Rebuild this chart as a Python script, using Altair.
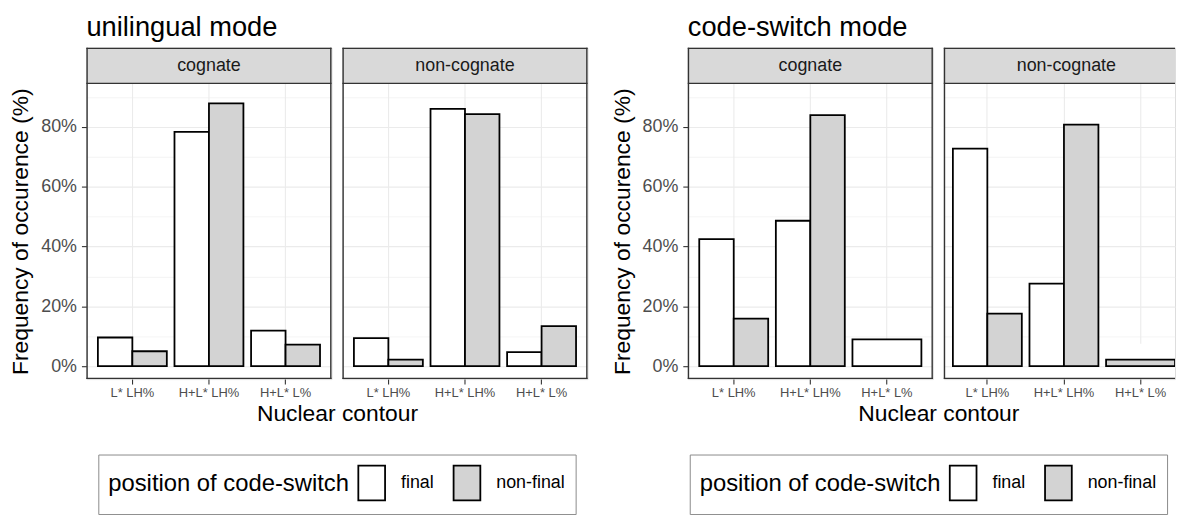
import altair as alt
import pandas as pd

FONT = "Liberation Sans"

modes = ["unilingual mode", "code-switch mode"]
cogs = ["cognate", "non-cognate"]
contours = ["L* LH%", "H+L* LH%", "H+L* L%"]
positions = ["final", "non-final"]

# values in percent, None = no bar
uni_cog_final = [9.6, 78.3, 11.9]
uni_cog_nonfinal = [5.0, 87.8, 7.2]
uni_non_final = [9.4, 86.0, 4.7]
uni_non_nonfinal = [2.2, 84.2, 13.4]
cs_cog_final = [42.5, 48.6, 9.0]
cs_cog_nonfinal = [15.9, 83.9, None]
cs_non_final = [72.7, 27.6, None]
cs_non_nonfinal = [17.6, 80.7, 2.2]

y_ticks = [0, 10, 20, 30, 40, 50, 60, 70, 80, 90]

series = {
    "unilingual mode": {
        "cognate": (uni_cog_final, uni_cog_nonfinal),
        "non-cognate": (uni_non_final, uni_non_nonfinal),
    },
    "code-switch mode": {
        "cognate": (cs_cog_final, cs_cog_nonfinal),
        "non-cognate": (cs_non_final, cs_non_nonfinal),
    },
}

W = 247          # full panel width
H = 298          # plot area height
STRIP = 36       # strip height
GAP = 11         # gap between panels
CUT_W = 233      # visible width of the last (cut-off) panel
BORDER = "#333333"
GRID = "#EBEBEB"
BW = 1.4
SW = 1.8


def build_df(mode, cog):
    rows = []
    fin, nonfin = series[mode][cog]
    for i, c in enumerate(contours):
        present = [(p, v) for p, v in zip(positions, (fin[i], nonfin[i])) if v is not None]
        for p, v in present:
            rows.append({"cog": cog, "contour": c, "pos": p, "val": v, "n": len(present)})
    return pd.DataFrame(rows)


def legend_def(lx):
    return alt.Legend(
        title="position of code-switch", orient="none", legendX=lx, legendY=410,
        direction="horizontal", titleOrient="left", titleFontSize=24, titleFont=FONT,
        titleFontWeight="normal", titleColor="black", titleAnchor="middle", titleBaseline="middle",
        titleLimit=600, labelLimit=300,
        titlePadding=4, labelFontSize=18, labelFont=FONT, labelColor="black",
        labelOffset=11, columnPadding=14, padding=10, strokeColor="#8A8A8A",
        symbolType="M-0.77,-1L0.77,-1L0.77,1L-0.77,1Z", symbolSize=1225,
        symbolStrokeColor="black", symbolStrokeWidth=SW, symbolOpacity=1,
    )


def panel(mode, cog, first, cut, lx):
    df = build_df(mode, cog)
    w = CUT_W if cut else W
    if cut:
        # same band step as the full panels; the right end of the panel is cut off
        step = W / 3.2
        po = (CUT_W / step - 2.9) / 2
        xscale = alt.Scale(domain=contours, paddingInner=0.1, paddingOuter=po, align=1)
    else:
        xscale = alt.Scale(domain=contours, paddingInner=0.1, paddingOuter=0.15)
    xaxis_kw = dict(
        labelFontSize=13, labelColor="#4D4D4D", labelFont=FONT,
        tickColor=BORDER, tickSize=5, tickWidth=1.1, domain=False,
        grid=True, gridColor=GRID, gridWidth=1.1, bandPosition=0.5,
        labelPadding=3, labelAngle=0,
    )
    if first:
        xaxis = alt.Axis(
            title="Nuclear contour", titleFontSize=23, titleFont=FONT, titleFontWeight="normal",
            titleColor="black", titleX=W + GAP / 2, titleY=24, titleAlign="center",
            titleBaseline="top", titleAngle=0, **xaxis_kw,
        )
    else:
        xaxis = alt.Axis(title=None, **xaxis_kw)
    yscale = alt.Scale(domain=[-4.3, 94.5], nice=False, zero=False, range=[H + STRIP, STRIP])
    grid_kw = dict(
        values=y_ticks, domain=False, grid=True, gridColor=GRID,
        gridWidth={"condition": {"test": "datum.value % 20 === 0", "value": 1.1}, "value": 0.55},
    )
    if first:
        yaxis = alt.Axis(
            title="Frequency of occurence (%)", titleFontSize=23, titleFont=FONT,
            titleFontWeight="normal", titleColor="black", titlePadding=8,
            labelExpr="datum.value % 20 === 0 ? datum.value + '%' : ''",
            labelFontSize=18, labelColor="#4D4D4D", labelFont=FONT, labelPadding=5,
            tickColor={"condition": {"test": "datum.value % 20 === 0", "value": BORDER},
                       "value": "rgba(0,0,0,0)"},
            tickSize=5, tickWidth=1.1, **grid_kw,
        )
    else:
        yaxis = alt.Axis(title=None, labels=False, ticks=False, **grid_kw)
    fill = alt.Fill("pos:N", scale=alt.Scale(domain=positions, range=["#FFFFFF", "#D3D3D3"]),
                    legend=legend_def(lx))
    clip = cut
    one_row = "datum.contour === 'L* LH%' && datum.pos === 'final'"
    bars_pair = alt.Chart().mark_bar(stroke="black", strokeWidth=SW, clip=clip).encode(
        x=alt.X("contour:N", sort=contours, scale=xscale, axis=xaxis),
        xOffset=alt.XOffset("pos:N", scale=alt.Scale(domain=positions, paddingInner=0, paddingOuter=0)),
        y=alt.Y("val:Q", scale=yscale, axis=yaxis, stack=False),
        y2=alt.datum(0),
        fill=fill,
    ).transform_filter("datum.n === 2")
    bars_single = alt.Chart().mark_bar(stroke="black", strokeWidth=SW, clip=clip).encode(
        x=alt.X("contour:N", sort=contours, scale=xscale, axis=xaxis),
        y=alt.Y("val:Q", scale=yscale, axis=yaxis, stack=False),
        y2=alt.datum(0),
        fill=fill,
    ).transform_filter("datum.n === 1")
    strip_rect = alt.Chart().mark_rect(fill="#D9D9D9", strokeWidth=0).encode(
        x=alt.value(0), x2=alt.value(w), y=alt.value(0), y2=alt.value(STRIP)
    ).transform_filter(one_row)
    strip_text = alt.Chart().mark_text(
        fontSize=18, font=FONT, color="#1A1A1A", baseline="middle", align="center"
    ).encode(
        x=alt.value(W / 2), y=alt.value(STRIP / 2 + 1), text="cog:N"
    ).transform_filter(one_row)
    h = BW / 2
    layers = [bars_single, bars_pair, strip_rect, strip_text]

    def hline(yv):
        return alt.Chart().mark_rule(color=BORDER, strokeWidth=BW).encode(
            x=alt.value(0), x2=alt.value(w), y=alt.value(yv)
        ).transform_filter(one_row)

    def vline(xv):
        return alt.Chart().mark_rule(color=BORDER, strokeWidth=BW).encode(
            x=alt.value(xv), y=alt.value(0), y2=alt.value(H + STRIP)
        ).transform_filter(one_row)

    layers += [hline(h), hline(STRIP), hline(H + STRIP - h), vline(h)]
    if not cut:
        layers.append(vline(W - h))
    return alt.layer(*layers, data=df).properties(width=w, height=H + STRIP)


def make_mode(mode, last, lx):
    p1 = panel(mode, cogs[0], True, False, lx)
    p2 = panel(mode, cogs[1], False, last, lx)
    inner = alt.hconcat(p1, p2, spacing=GAP, bounds="flush")
    return alt.vconcat(inner).properties(
        title=alt.TitleParams(mode, anchor="start", fontSize=27.5, font=FONT, fontWeight="normal",
                              color="black", offset=5, frame="group")
    )


left = make_mode(modes[0], False, 12)
right = make_mode(modes[1], True, 2)

chart = alt.hconcat(left, right, spacing=21).resolve_scale(fill="independent").resolve_legend(
    fill="independent"
).configure_view(stroke="transparent", strokeWidth=0).configure(
    font=FONT, padding={"left": 1, "top": 4, "right": 0, "bottom": 0}
)

chart.save("out.html", embed_options={"renderer": "svg", "actions": False})
